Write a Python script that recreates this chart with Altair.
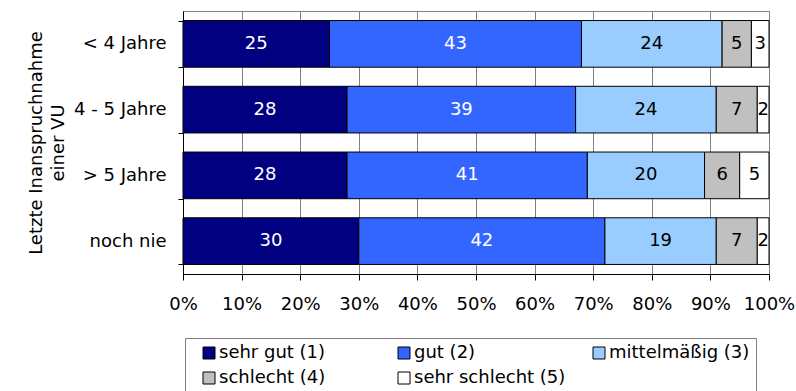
import altair as alt
import pandas as pd

# Survey answers per group (percent of respondents)
groups = ["< 4 Jahre", "4 - 5 Jahre", "> 5 Jahre", "noch nie"]
ratings = ["sehr gut (1)", "gut (2)", "mittelmäßig (3)", "schlecht (4)", "sehr schlecht (5)"]
sehr_gut = [25, 28, 28, 30]
gut = [43, 39, 41, 42]
mittelmaessig = [24, 24, 20, 19]
schlecht = [5, 7, 6, 7]
sehr_schlecht = [3, 2, 5, 2]
colors = ["#000080", "#3366FF", "#99CCFF", "#C0C0C0", "#FFFFFF"]
label_colors = ["white", "white", "black", "black", "black"]
ticks = [0, 10, 20, 30, 40, 50, 60, 70, 80, 90, 100]

series = [sehr_gut, gut, mittelmaessig, schlecht, sehr_schlecht]
rows = []
for r_idx, (rating, vals) in enumerate(zip(ratings, series)):
    for g, v in zip(groups, vals):
        rows.append({"group": g, "rating": rating, "rank": r_idx,
                     "value": v, "tcolor": label_colors[r_idx]})
df = pd.DataFrame(rows)

FONT = "DejaVu Sans"
FS = 18

base = alt.Chart(df).transform_stack(
    stack="value",
    groupby=["group"],
    as_=["v0", "v1"],
    sort=[alt.SortField("rank", order="ascending")],
).transform_calculate(mid="(datum.v0 + datum.v1) / 2")

y_enc = alt.Y(
    "group:N",
    sort=groups,
    scale=alt.Scale(paddingInner=0.29, paddingOuter=0.145),
    axis=alt.Axis(
        title=["Letzte Inanspruchnahme", "einer VU"],
        titleFont=FONT, titleFontSize=FS, titleFontWeight="normal",
        titleColor="black", titleAngle=-90, titleBaseline="middle",
        titleAlign="center", titleX=-147, titleY=131.5, titleLineHeight=22,
        labelFont=FONT, labelFontSize=FS, labelColor="black",
        labelPadding=12, tickSize=5, tickColor="black", tickBand="extent",
        domainColor="black", grid=False,
    ),
)

x_scale = alt.Scale(domain=[0, 100], nice=False)
x_axis = alt.Axis(
    title=None, values=ticks, labelExpr="datum.value + '%'",
    labelFont=FONT, labelFontSize=FS, labelColor="black", labelPadding=15,
    labelOverlap=False, labelBound=False, labelFlush=False,
    tickSize=6, tickColor="black", domainColor="black",
    grid=True, gridColor="#808080", gridWidth=1,
)

bars = base.mark_bar(stroke="black", strokeWidth=1).encode(
    x=alt.X("v0:Q", scale=x_scale, axis=x_axis),
    x2="v1:Q",
    y=y_enc,
    color=alt.Color(
        "rating:N",
        sort=ratings,
        scale=alt.Scale(domain=ratings, range=colors),
        legend=alt.Legend(
            title=None, orient="none", legendX=2, legendY=327,
            direction="horizontal", columns=3, gridAlign="all",
            columnPadding=15, rowPadding=7, padding=6,
            strokeColor="#808080",
            symbolType="square", symbolSize=144, symbolStrokeColor="black",
            symbolStrokeWidth=1, symbolOffset=9, labelOffset=1,
            labelFont=FONT, labelFontSize=FS, labelColor="black",
        ),
    ),
    order=alt.Order("rank:Q"),
)

labels = base.mark_text(font=FONT, fontSize=FS, baseline="middle", align="center").encode(
    x=alt.X("mid:Q", scale=x_scale),
    y=alt.Y("group:N", sort=groups),
    text="value:Q",
    color=alt.Color("tcolor:N", scale=None),
)

chart = (bars + labels).properties(
    width=586, height=263,
    autosize=alt.AutoSizeParams(type="none"),
    padding={"left": 183, "top": 11, "right": 27, "bottom": 117},
).configure_view(stroke="#808080", strokeWidth=1)

chart.save("out.html", embed_options={"renderer": "svg", "actions": False})
